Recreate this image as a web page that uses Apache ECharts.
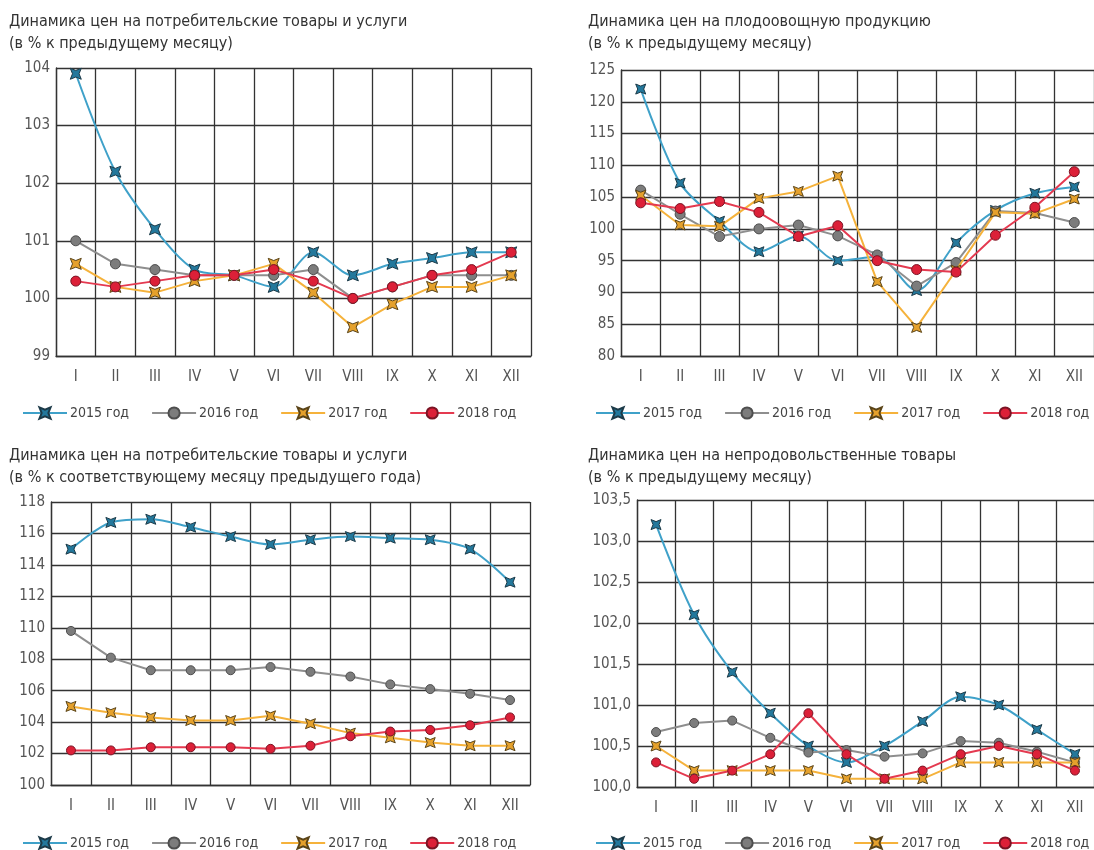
<!DOCTYPE html>
<html>
<head>
<meta charset="utf-8">
<script src="https://cdn.jsdelivr.net/npm/echarts@6/dist/echarts.min.js"></script>
<style>
html, body {margin: 0; padding: 0; background: #fff;}
#chart {width: 1094px; height: 850px;}
</style>
</head>
<body>
<div id="chart"></div>
<script>
// месяцы
var months = ['I', 'II', 'III', 'IV', 'V', 'VI', 'VII', 'VIII', 'IX', 'X', 'XI', 'XII'];
var years = ['2015 год', '2016 год', '2017 год', '2018 год'];

var titles = [
    'Динамика цен на потребительские товары и услуги\n(в % к предыдущему месяцу)',
    'Динамика цен на плодоовощную продукцию\n(в % к предыдущему месяцу)',
    'Динамика цен на потребительские товары и услуги\n(в % к соответствующему месяцу предыдущего года)',
    'Динамика цен на непродовольственные товары\n(в % к предыдущему месяцу)'
];

// 1. потребительские товары, к предыдущему месяцу
var cpi2015 = [103.9, 102.2, 101.2, 100.5, 100.4, 100.2, 100.8, 100.4, 100.6, 100.7, 100.8, 100.8];
var cpi2016 = [101.0, 100.6, 100.5, 100.4, 100.4, 100.4, 100.5, 100.0, 100.2, 100.4, 100.4, 100.4];
var cpi2017 = [100.6, 100.2, 100.1, 100.3, 100.4, 100.6, 100.1, 99.5, 99.9, 100.2, 100.2, 100.4];
var cpi2018 = [100.3, 100.2, 100.3, 100.4, 100.4, 100.5, 100.3, 100.0, 100.2, 100.4, 100.5, 100.8];

// 2. плодоовощная продукция
var veg2015 = [122.0, 107.2, 101.2, 96.4, 98.9, 95.0, 95.6, 90.3, 97.8, 102.9, 105.6, 106.6];
var veg2016 = [106.1, 102.3, 98.8, 100.0, 100.6, 98.9, 95.9, 91.0, 94.7, 102.8, 102.5, 101.0];
var veg2017 = [105.3, 100.6, 100.4, 104.8, 105.9, 108.3, 91.7, 84.5, 93.5, 102.6, 102.4, 104.7];
var veg2018 = [104.1, 103.2, 104.3, 102.6, 98.8, 100.5, 95.0, 93.6, 93.2, 99.0, 103.4, 109.0];

// 3. потребительские товары, к месяцу предыдущего года
var yoy2015 = [115.0, 116.7, 116.9, 116.4, 115.8, 115.3, 115.6, 115.8, 115.7, 115.6, 115.0, 112.9];
var yoy2016 = [109.8, 108.1, 107.3, 107.3, 107.3, 107.5, 107.2, 106.9, 106.4, 106.1, 105.8, 105.4];
var yoy2017 = [105.0, 104.6, 104.3, 104.1, 104.1, 104.4, 103.9, 103.3, 103.0, 102.7, 102.5, 102.5];
var yoy2018 = [102.2, 102.2, 102.4, 102.4, 102.4, 102.3, 102.5, 103.1, 103.4, 103.5, 103.8, 104.3];

// 4. непродовольственные товары
var nf2015 = [103.2, 102.1, 101.4, 100.9, 100.5, 100.3, 100.5, 100.8, 101.1, 101.0, 100.7, 100.4];
var nf2016 = [100.67, 100.78, 100.81, 100.6, 100.42, 100.45, 100.37, 100.41, 100.56, 100.54, 100.43, 100.3];
var nf2017 = [100.5, 100.2, 100.2, 100.2, 100.2, 100.1, 100.1, 100.1, 100.3, 100.3, 100.3, 100.3];
var nf2018 = [100.3, 100.1, 100.2, 100.4, 100.9, 100.4, 100.1, 100.2, 100.4, 100.5, 100.4, 100.2];

// шкалы: [min, max, шаг]
var yScales = [[99, 104, 1], [80, 125, 5], [100, 118, 2], [100, 103.5, 0.5]];

var dataSets = [
    [cpi2015, cpi2016, cpi2017, cpi2018],
    [veg2015, veg2016, veg2017, veg2018],
    [yoy2015, yoy2016, yoy2017, yoy2018],
    [nf2015, nf2016, nf2017, nf2018]
];

var FONT = "'DejaVu Sans Condensed', 'Liberation Sans Narrow', sans-serif";
var STAR = 'path://M0,0 L10,4 L20,0 L16,10 L20,20 L10,16 L0,20 L4,10 Z';

var styles = [
    {line: '#3fa1c9', fill: '#23789c', border: '#1c3a48', symbol: STAR, smooth: 0.3},
    {line: '#8e8e8e', fill: '#7c7c7c', border: '#4e4e4e', symbol: 'circle', smooth: false},
    {line: '#f5b23b', fill: '#e5a12c', border: '#5a4418', symbol: STAR, smooth: false},
    {line: '#e43a50', fill: '#dc2038', border: '#7a1424', symbol: 'circle', smooth: false}
];

var grids = [
    {left: 56, top: 68, width: 475, height: 288},
    {left: 621, top: 70, width: 480, height: 286},
    {left: 51, top: 502, width: 479, height: 283},
    {left: 637, top: 500, width: 464, height: 287}
];
var titlePos = [[4, 6], [583, 6], [4, 440], [583, 440]];
var legendPos = [[17, 401], [590, 401], [17, 831], [590, 831]];
var symSizes = [[11, 10], [10, 10], [10, 9], [10, 9]];

var option = {
    backgroundColor: '#fff',
    animation: false,
    title: [],
    legend: [],
    grid: grids,
    xAxis: [],
    yAxis: [],
    series: []
};

for (var g = 0; g < 4; g++) {
    option.title.push({
        text: titles[g],
        left: titlePos[g][0], top: titlePos[g][1],
        textStyle: {fontFamily: FONT, fontSize: 16, fontWeight: 'normal', color: '#333', lineHeight: 22}
    });
    option.legend.push({
        data: years,
        left: legendPos[g][0], top: legendPos[g][1],
        width: 540,
        itemWidth: 44, itemHeight: 14, itemGap: 22,
        textStyle: {fontFamily: FONT, fontSize: 14, color: '#444', padding: [0, 0, 0, -2]}
    });
    option.xAxis.push({
        type: 'category',
        gridIndex: g,
        data: months,
        boundaryGap: true,
        axisLine: {lineStyle: {color: '#333', width: 1.3}},
        axisTick: {show: false},
        axisLabel: {fontFamily: FONT, fontSize: 15, color: '#555', margin: 14},
        splitLine: {show: true, lineStyle: {color: '#333', width: 1.3}}
    });
    var sc = yScales[g];
    option.yAxis.push({
        type: 'value',
        gridIndex: g,
        min: sc[0], max: sc[1], interval: sc[2],
        axisLine: {show: true, lineStyle: {color: '#333', width: 1.3}},
        axisTick: {show: false},
        axisLabel: {
            fontFamily: FONT, fontSize: 15, color: '#555', margin: 6,
            formatter: g == 3 ? function(v) { return v.toFixed(1).replace('.', ','); } : '{value}'
        },
        splitLine: {show: true, lineStyle: {color: '#333', width: 1.3}}
    });
    for (var s = 0; s < 4; s++) {
        var st = styles[s];
        option.series.push({
            name: years[s],
            type: 'line',
            xAxisIndex: g,
            yAxisIndex: g,
            data: dataSets[g][s],
            smooth: st.smooth,
            symbol: st.symbol,
            symbolSize: st.symbol == 'circle' ? symSizes[g][1] : symSizes[g][0],
            showAllSymbol: true,
            lineStyle: {color: st.line, width: 2},
            itemStyle: {color: st.fill, borderColor: st.border, borderWidth: 1},
            z: 3 + s
        });
    }
}

var chart = echarts.init(document.getElementById('chart'));
chart.setOption(option);
</script>
</body>
</html>
